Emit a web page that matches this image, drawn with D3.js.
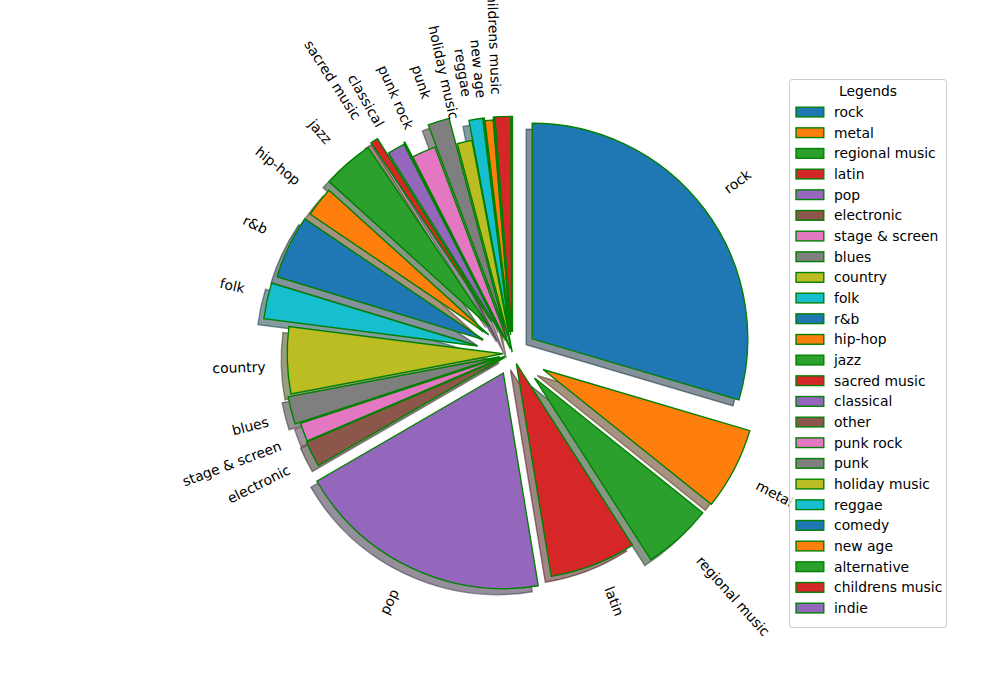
<!DOCTYPE html>
<html>
<head>
<meta charset="utf-8">
<script src="https://cdn.jsdelivr.net/npm/d3@7"></script>
<style>
  body { margin: 0; background: #ffffff; }
  svg { display: block; font-family: "DejaVu Sans", sans-serif; }
</style>
</head>
<body>
<svg id="chart" width="1000" height="700"></svg>
<script>
// ---- data ----
const categories = ["rock", "metal", "regional music", "latin", "pop", "electronic",
  "stage & screen", "blues", "country", "folk", "r&b", "hip-hop", "jazz",
  "sacred music", "classical", "other", "punk rock", "punk", "holiday music",
  "reggae", "comedy", "new age", "alternative", "childrens music", "indie"];
const values = [29.58, 6.17, 5.19, 6.47, 19.22, 1.94, 1.39, 2.06, 5.0, 2.69, 4.75, 2.25, 3.83,
  0.58, 1.31, 0.08, 1.78, 1.61, 1.11, 1.03, 0.06, 0.61, 0.06, 1.17, 0.06];
const pieLabels = ["rock", "metal", "regional music", "latin", "pop", "electronic",
  "stage & screen", "blues", "country", "folk", "r&b", "hip-hop", "jazz",
  "sacred music", "classical", "", "punk rock", "punk", "holiday music",
  "reggae", "", "new age", "", "childrens music", ""];
const explode = [0.114, 0.16, 0.153, 0.05, 0.10, 0.04, 0.035, 0.06, 0.045, 0.165,
  0.15, 0.14, 0.167, 0.177, 0.093, 0.1, 0.023, 0.13, 0.006, 0.1, 0.1, 0.087, 0.1, 0.1, 0.1];
const palette = ["#1f77b4", "#ff7f0e", "#2ca02c", "#d62728", "#9467bd",
  "#8c564b", "#e377c2", "#7f7f7f", "#bcbd22", "#17becf"];
const legendTitle = "Legends";

// ---- layout ----
const svg = d3.select("#chart");
const cx = 512.5, cy = 353.5, R = 215.6;
const fontSize = 13.89;
const lw = 1.39;
const shadowOff = 0.02 * 100 / 72 * R;
const color = i => palette[i % palette.length];
const shade = c => { const r = d3.rgb(c); return d3.rgb(r.r * 0.3, r.g * 0.3, r.b * 0.3).formatHex(); };

const arcs = d3.pie().sort(null).value(d => d)(values);
const arcGen = d3.arc().innerRadius(0).outerRadius(R);

const slices = arcs.map((d, i) => {
  const a = (d.startAngle + d.endAngle) / 2;
  return {
    d, i, a,
    dx: explode[i] * R * Math.sin(a),
    dy: -explode[i] * R * Math.cos(a)
  };
});

// shadows (behind all wedges)
svg.append("g").selectAll("path").data(slices).join("path")
  .attr("transform", s => `translate(${cx + s.dx - shadowOff},${cy + s.dy + shadowOff})`)
  .attr("d", s => arcGen(s.d))
  .attr("fill", s => shade(color(s.i)))
  .attr("fill-opacity", 0.5)
  .attr("stroke", s => shade(color(s.i)))
  .attr("stroke-opacity", 0.5)
  .attr("stroke-width", lw)
  .attr("stroke-linejoin", "miter");

// wedges
svg.append("g").selectAll("path").data(slices).join("path")
  .attr("transform", s => `translate(${cx + s.dx},${cy + s.dy})`)
  .attr("d", s => arcGen(s.d))
  .attr("fill", s => color(s.i))
  .attr("stroke", "#008000")
  .attr("stroke-width", lw)
  .attr("stroke-linejoin", "miter");

// rotated labels (matplotlib rotatelabels behaviour)
const lg = svg.append("g");
slices.forEach(s => {
  const txt = pieLabels[s.i];
  if (!txt) return;
  const dist = (explode[s.i] + 1.1) * R;
  const ux = Math.sin(s.a), uy = Math.cos(s.a); // math coords
  const X = cx + dist * ux, Y = cy - dist * uy;
  const thetaDeg = 90 - s.a * 180 / Math.PI;
  const rot = thetaDeg + (ux > 0 ? 0 : 180);
  const t = lg.append("text")
    .attr("font-size", fontSize)
    .attr("text-anchor", "middle")
    .attr("fill", "#000")
    .text(txt);
  const w = t.node().getComputedTextLength();
  const h = fontSize * 1.0;
  const r = rot * Math.PI / 180;
  const BW = w * Math.abs(Math.cos(r)) + h * Math.abs(Math.sin(r));
  const BH = w * Math.abs(Math.sin(r)) + h * Math.abs(Math.cos(r));
  const bx = X + (ux > 0 ? BW / 2 : -BW / 2);
  const by = Y + (uy > 0 ? -BH / 2 : BH / 2);
  t.attr("transform", `translate(${bx},${by}) rotate(${-rot})`)
    .attr("y", h / 2 - 0.23 * fontSize);
});

// legend
const leg = svg.append("g");
const lx = 789.5, ly = 79.5, lW = 157, lH = 548;
leg.append("rect").attr("x", lx).attr("y", ly).attr("width", lW).attr("height", lH)
  .attr("rx", 3).attr("fill", "#fff").attr("fill-opacity", 0.8)
  .attr("stroke", "#cccccc").attr("stroke-width", 1);
leg.append("text").attr("x", lx + lW / 2).attr("y", 96).attr("text-anchor", "middle")
  .attr("font-size", fontSize).text(legendTitle);
const rowY = d3.scaleLinear().domain([0, categories.length - 1]).range([112, 608]);
categories.forEach((c, i) => {
  const y = rowY(i);
  leg.append("rect").attr("x", 796).attr("y", y - 4.8).attr("width", 27.8).attr("height", 9.7)
    .attr("fill", color(i)).attr("stroke", "#008000").attr("stroke-width", lw);
  leg.append("text").attr("x", 834).attr("y", y + 5).attr("font-size", fontSize).text(c);
});
</script>
</body>
</html>
